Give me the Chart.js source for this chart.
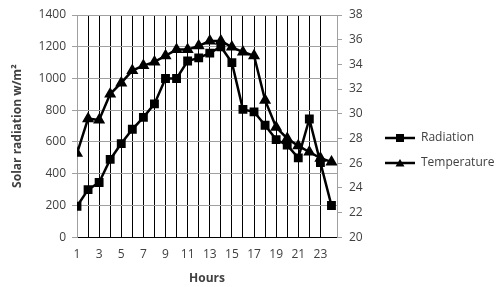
<!DOCTYPE html>
<html>
<head>
<meta charset="utf-8">
<script src="https://cdn.jsdelivr.net/npm/chart.js@4"></script>
<style>
  html, body { margin: 0; padding: 0; background: #fff; }
  #wrap { width: 500px; height: 287px; }
</style>
</head>
<body>
<div id="wrap"><canvas id="chart" width="500" height="287"></canvas></div>
<script>
// hours of the day
const hours = [1,2,3,4,5,6,7,8,9,10,11,12,13,14,15,16,17,18,19,20,21,22,23,24];

// solar radiation, w/m2 (left axis)
const radiation = [195,300,345,490,590,680,755,840,1000,1000,1110,1130,1160,1200,1100,805,790,705,615,580,500,745,470,200];

// temperature, deg C (right axis)
const temperature = [26.8,29.6,29.5,31.6,32.5,33.5,33.9,34.2,34.7,35.2,35.2,35.5,35.9,35.9,35.4,35.0,34.7,31.1,28.9,28.0,27.4,26.9,26.4,26.1];

const textColor = "#404040";
const font = { family: "Open Sans", size: 12 };

// little line+marker pictures for the legend
function legendIcon(kind) {
    const c = document.createElement("canvas");
    c.width = 30; c.height = 10;
    const g = c.getContext("2d");
    g.strokeStyle = "#000"; g.lineWidth = 2.5;
    g.beginPath(); g.moveTo(0, 5); g.lineTo(30, 5); g.stroke();
    g.fillStyle = "#000";
    if (kind === "square") {
        g.fillRect(11, 1, 8, 8);
    } else {
        g.beginPath(); g.moveTo(15, 1); g.lineTo(19.5, 8.5); g.lineTo(10.5, 8.5); g.closePath(); g.fill();
    }
    return c;
}

const points = arr => arr.map((v, i) => ({ x: hours[i], y: v }));

new Chart(document.getElementById("chart"), {
    type: "line",
    data: {
        datasets: [
            {
                label: "Radiation",
                data: points(radiation),
                yAxisID: "y",
                borderColor: "#000",
                backgroundColor: "#000",
                borderWidth: 2.5,
                pointStyle: "rect",
                pointRadius: 4.5,
                pointHoverRadius: 4.5,
                tension: 0
            },
            {
                label: "Temperature",
                data: points(temperature),
                yAxisID: "y2",
                borderColor: "#000",
                backgroundColor: "#000",
                borderWidth: 2.5,
                pointStyle: "triangle",
                pointRadius: 4.5,
                pointHoverRadius: 4.5,
                tension: 0
            }
        ]
    },
    options: {
        responsive: false,
        animation: false,
        layout: { padding: { top: 15, right: 0, bottom: 1, left: 10 } },
        scales: {
            x: {
                type: "linear",
                min: 1,
                max: 24.5,
                border: { color: "#000", width: 1 },
                grid: { color: "#000", lineWidth: 1, drawTicks: false },
                ticks: {
                    stepSize: 1,
                    autoSkip: false,
                    maxRotation: 0,
                    padding: 10,
                    color: textColor,
                    font: font,
                    callback: v => (Number.isInteger(v) && v % 2 === 1 && v <= 23) ? v : ""
                },
                title: {
                    display: true,
                    text: "Hours",
                    color: textColor,
                    font: { family: "Open Sans", size: 12, weight: "bold" },
                    padding: { top: 0, bottom: 0 }
                }
            },
            y: {
                position: "left",
                min: 0,
                max: 1400,
                border: { color: "#a0a0a0" },
                grid: { color: "#a0a0a0", tickLength: 5 },
                ticks: { stepSize: 200, color: textColor, font: font, padding: 6, callback: v => String(v) },
                title: {
                    display: true,
                    text: "Solar radiation w/m\u00b2",
                    color: textColor,
                    font: { family: "Open Sans", size: 12, weight: "bold" },
                    padding: { top: 0, bottom: 4 }
                },
                afterFit: s => { s.width = 67; }
            },
            y2: {
                position: "right",
                min: 20,
                max: 38,
                border: { color: "#a0a0a0" },
                grid: { drawOnChartArea: false, color: "#a0a0a0", tickLength: 5 },
                ticks: { stepSize: 2, color: textColor, font: font, padding: 7 },
                afterFit: s => { s.width = 35; }
            }
        },
        plugins: {
            legend: {
                position: "right",
                maxWidth: 128,
                labels: {
                    usePointStyle: true,
                    pointStyleWidth: 30,
                    color: textColor,
                    font: font,
                    padding: 13,
                    generateLabels: chart => chart.data.datasets.map((d, i) => ({
                        text: d.label,
                        pointStyle: legendIcon(i === 0 ? "square" : "triangle"),
                        fontColor: textColor,
                        datasetIndex: i,
                        lineWidth: 0
                    }))
                }
            },
            tooltip: { enabled: false }
        }
    }
});
</script>
</body>
</html>
